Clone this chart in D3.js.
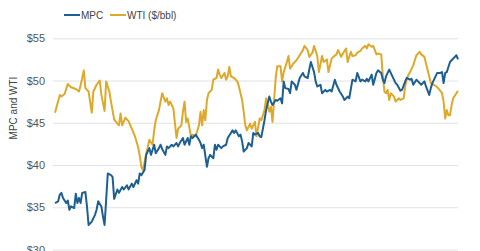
<!DOCTYPE html>
<html>
<head>
<meta charset="utf-8">
<script src="https://cdn.jsdelivr.net/npm/d3@7"></script>
<style>
  body { margin: 0; background: #fff; }
  text { font-family: Arial, "Liberation Sans", sans-serif; }
</style>
</head>
<body>
<script>
// trading day index within the period, and closing values
var mpcDays = [0,2,3,4,5,7,8,9,10,12,13,14,15,16,17,19,20,21,23,25,26,27,29,30,31,32,33,35,36,37,39,40,42,43,45,46,48,49,51,52,53,54,56,57,58,
  59,60,62,63,65,66,67,69,70,71,73,74,76,77,78,80,81,83,84,85,86,88,90,91,92,93,95,96,97,99,100,101,102,104,105,107,108,110,111,112,113,115,116,117,118,120,121,123,
  124,125,127,128,129,131,132,134,135,136,138,139,141,142,143,144,146,147,148,150,151,153,155,156,158,159,160,162,163,164,166,167,169,170,172,173,175,176,178,180,181,183,184,
  186,188,189,191,192,194,195,196,198,199,201,202,204,205,206,207,208,209,211,213,214,216,217,219,220,222,223,224,226,227,229,231,232,234,235,236,237,239,241,242,243,244,245,246,247,248,250,251,252]
var mpcValues = [35.5,35.7,36.5,36.7,36.1,35.5,35.8,34.7,35.1,34.9,36.6,35.5,36.1,35.5,36.7,36.8,35.1,32.9,33.3,34.1,34.7,35.7,35.1,33.9,32.9,35.9,39.0,38.8,38.6,36.0,37.1,36.7,37.4,37.1,37.6,37.1,37.8,37.4,38.2,37.8,39.0,38.8,39.4,41.2,41.6,
  42.0,41.2,42.4,41.4,42.0,42.4,41.9,41.2,42.2,42.0,42.4,42.2,42.6,42.2,42.6,43.2,42.4,43.2,42.4,43.4,43.2,43.6,43.0,42.6,42.0,42.4,39.8,40.8,41.2,40.8,42.4,41.8,42.4,42.0,42.2,42.4,43.2,43.8,44.1,43.8,44.1,43.4,43.6,42.8,41.6,42.0,42.6,42.2,
  43.8,43.6,43.8,43.4,43.3,45.3,46.5,48.1,47.5,47.1,47.7,47.6,47.9,47.3,49.9,49.1,49.0,48.5,49.9,49.5,48.9,50.3,50.9,50.5,50.3,51.3,52.2,51.0,49.9,49.3,49.5,48.5,48.9,48.7,48.9,48.7,50.1,49.5,48.7,48.1,47.7,48.1,47.9,
  50.1,49.9,50.9,49.9,50.1,49.9,50.2,49.9,50.7,49.5,50.9,51.2,50.9,50.1,49.7,50.5,50.9,51.3,50.5,49.7,49.5,48.8,48.9,49.9,50.3,50.1,50.2,49.5,50.1,49.9,49.5,49.9,49.3,48.3,49.1,49.7,50.1,50.9,50.9,51.0,49.7,50.9,51.0,51.6,52.2,52.4,52.8,53.0,52.5]

var wtiDays = [0,3,4,6,8,10,13,15,16,18,19,21,23,24,26,28,29,31,32,34,35,37,39,40,41,42,44,46,48,50,52,53,54,55,57,58,59,61,62,63,65,66,67,69,70,71,72,74,76,77,79,80,81,82,83,85,86,88,90,91,92,93,94,95,96,98,99,101,102,103,104,106,107,108,109,110,112,114,115,117,118,119,120,
  122,123,125,126,128,129,131,132,134,135,136,138,139,141,142,143,145,146,147,149,150,151,153,155,156,158,159,161,162,164,165,167,168,170,171,173,174,176,177,179,180,182,183,185,186,
  188,189,191,192,194,195,196,198,199,201,202,204,205,206,207,208,209,210,212,213,215,216,218,219,220,222,224,225,226,228,229,231,232,234,235,237,239,240,242,243,244,245,246,247,248,249,251,252]
var wtiValues = [46.2,48.3,48.1,48.4,49.6,49.2,49.0,48.7,49.4,51.2,49.1,48.7,46.2,48.7,49.5,50.0,48.3,46.4,49.9,48.7,47.5,45.4,44.9,44.7,46.1,44.7,45.6,45.2,44.3,43.4,42.1,41.1,39.8,39.4,41.3,42.1,43.0,42.4,44.1,45.3,46.5,47.5,48.5,47.5,47.9,47.1,47.5,46.7,43.2,44.3,44.7,46.3,47.5,45.1,45.5,43.4,43.6,43.4,44.7,46.3,44.7,46.5,45.3,47.7,48.5,48.9,50.1,50.3,51.3,50.7,50.3,50.9,50.1,50.5,51.6,50.5,50.3,49.9,49.3,47.7,46.3,44.7,44.1,
  44.9,44.3,45.1,43.4,45.5,45.3,46.5,47.9,46.3,46.9,45.1,50.3,51.7,51.7,49.9,51.0,52.2,52.9,51.4,52.0,52.2,52.4,53.0,53.6,54.1,53.6,52.8,53.3,54.1,52.9,51.0,52.9,52.2,52.5,51.0,52.6,52.8,53.1,53.6,52.8,53.2,53.8,52.2,53.4,52.9,
  53.0,53.3,53.5,53.8,54.1,53.8,54.3,54.0,54.1,53.1,53.2,53.1,50.5,48.7,48.5,48.9,47.7,48.5,48.1,47.5,47.9,47.7,47.9,49.3,50.3,51.0,51.8,52.4,53.0,53.4,53.1,52.8,52.0,50.5,49.7,49.5,49.2,49.0,48.5,47.5,45.5,46.5,45.9,45.9,47.1,47.9,48.5,48.8]

var yTicks = [30, 35, 40, 45, 50, 55]
var seriesNames = ['MPC', 'WTI ($/bbl)']
var seriesColors = ['#1d5f91', '#dea92a']

var width = 480, height = 251

var svg = d3.select('body').append('svg')
  .attr('width', width)
  .attr('height', height)

var x = d3.scaleLinear().domain([0, 252]).range([55, 458])
var y = d3.scaleLinear().domain([30, 55]).range([249.5, 38.3])

// gridlines + tick labels
var yAxis = svg.append('g')
  .attr('transform', 'translate(53,0)')
  .call(d3.axisLeft(y).tickValues(yTicks).tickSize(-405).tickPadding(8).tickFormat(d => '$' + d))
yAxis.select('.domain').remove()
yAxis.selectAll('line').attr('stroke', '#e2e2e2').attr('stroke-width', 1)
yAxis.selectAll('text').attr('fill', '#555').style('font-size', '11px')

svg.append('text')
  .attr('transform', 'translate(17,108) rotate(-90)')
  .attr('text-anchor', 'middle')
  .attr('fill', '#444')
  .style('font-size', '10px')
  .text('MPC and WTI')

var line = d3.line()
  .x(d => x(d[0]))
  .y(d => y(d[1]))

var wti = d3.zip(wtiDays, wtiValues)
var mpc = d3.zip(mpcDays, mpcValues)

svg.append('path')
  .attr('d', line(wti))
  .attr('fill', 'none')
  .attr('stroke', seriesColors[1])
  .attr('stroke-width', 2)
  .attr('stroke-linejoin', 'round')

svg.append('path')
  .attr('d', line(mpc))
  .attr('fill', 'none')
  .attr('stroke', seriesColors[0])
  .attr('stroke-width', 2)
  .attr('stroke-linejoin', 'round')

// legend
var legX = [64, 110]
var legend = svg.append('g')
seriesNames.forEach(function(name, i) {
  legend.append('line')
    .attr('x1', legX[i]).attr('x2', legX[i] + 16)
    .attr('y1', 15).attr('y2', 15)
    .attr('stroke', seriesColors[i])
    .attr('stroke-width', 2)
  legend.append('text')
    .attr('x', legX[i] + 17)
    .attr('y', 18.5)
    .attr('fill', '#444')
    .style('font-size', '10px')
    .text(name)
})
</script>
